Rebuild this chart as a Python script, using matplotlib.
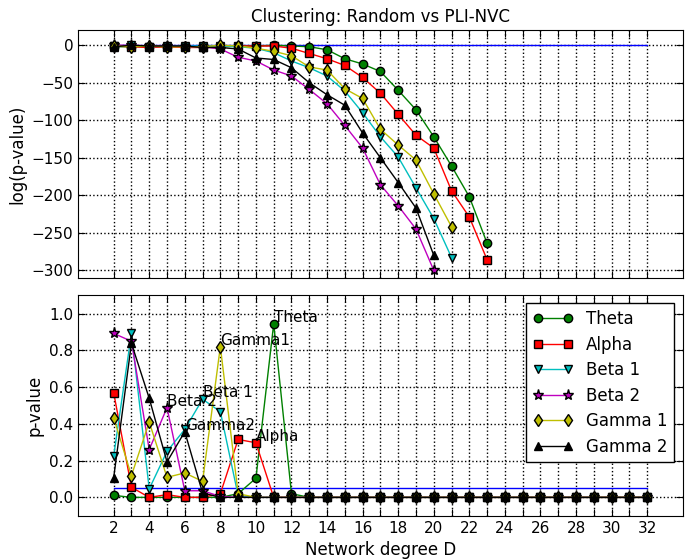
import numpy as np
import matplotlib.pyplot as plt

degrees = list(range(2, 33))
nan = float('nan')

# log(p-value), degree 2..23 (then nothing plotted)
theta_log = [-2, -2, -2, -2, -2, -2, -2, -1, -1, 0, -1, -2, -6, -18, -25, -35, -60, -86, -122, -161, -202, -264]
alpha_log = [-1, -2, -3, -2, -3, -3, -2, -1, -1, -1, -4, -11, -18, -27, -43, -64, -92, -120, -137, -194, -229, -286]
beta1_log = [-1, 0, -2, -1, -1, -1, -1, -2, -4, -10, -21, -30, -41, -61, -90, -122, -149, -190, -231, -283]
beta2_log = [0, 0, -1, -1, -2, -2, -5, -16, -21, -33, -41, -59, -78, -107, -137, -186, -214, -245, -300]
gamma1_log = [-1, -2, -1, -2, -2, -2, 0, -1, -4, -8, -14, -29, -33, -58, -71, -112, -133, -153, -198, -242]
gamma2_log = [-2, 0, -1, -1, -1, -3, -3, -5, -17, -19, -30, -50, -66, -80, -117, -150, -183, -217, -280]

# p-value, degree 2..12, zero afterwards
theta_p = [0.011, 0.0, 0.0, 0.0, 0.0, 0.0, 0.0, 0.02, 0.104, 0.944, 0.02]
alpha_p = [0.570, 0.055, 0.0, 0.015, 0.0, 0.0, 0.02, 0.315, 0.297, 0.0, 0.0]
beta1_p = [0.224, 0.892, 0.046, 0.25, 0.37, 0.534, 0.466, 0.01, 0.0, 0.0, 0.0]
beta2_p = [0.892, 0.849, 0.26, 0.488, 0.036, 0.036, 0.005, 0.0, 0.0, 0.0, 0.0]
gamma1_p = [0.434, 0.118, 0.41, 0.109, 0.133, 0.087, 0.82, 0.02, 0.0, 0.0, 0.0]
gamma2_p = [0.106, 0.838, 0.539, 0.193, 0.357, 0.024, 0.0, 0.0, 0.0, 0.0, 0.0]

names = ['Theta', 'Alpha', 'Beta 1', 'Beta 2', 'Gamma 1', 'Gamma 2']
colors = ['g', 'r', 'c', 'm', 'y', 'k']
markers = ['o', 's', 'v', '*', 'd', '^']
markersizes = [6, 6, 6, 8, 6, 6]

# peak annotations (label, degree, p-value)
notes = [('Theta', 11, 0.944), ('Gamma1', 8, 0.82), ('Beta 2', 5, 0.488),
         ('Beta 1', 7, 0.534), ('Gamma2', 6, 0.357), ('Alpha', 10, 0.297)]

threshold_log = 0
threshold_p = 0.05

logs = [theta_log, alpha_log, beta1_log, beta2_log, gamma1_log, gamma2_log]
pvals = [theta_p, alpha_p, beta1_p, beta2_p, gamma1_p, gamma2_p]

fig = plt.figure(figsize=(6.91, 5.60), dpi=100)
ax1 = fig.add_axes([0.113, 0.504, 0.875, 0.442])
ax2 = fig.add_axes([0.113, 0.079, 0.875, 0.394])

ax1.plot(degrees, [threshold_log] * len(degrees), color='b', lw=1)
for i in range(len(names)):
    y = logs[i] + [nan] * (len(degrees) - len(logs[i]))
    ax1.plot(degrees, y, color=colors[i], marker=markers[i], ms=markersizes[i],
             mfc=colors[i], mec='k', lw=1)

ax2.plot(degrees, [threshold_p] * len(degrees), color='b', lw=1)
for i in range(len(names)):
    y = pvals[i] + [0.0] * (len(degrees) - len(pvals[i]))
    ax2.plot(degrees, y, color=colors[i], marker=markers[i], ms=markersizes[i],
             mfc=colors[i], mec='k', lw=1, label=names[i])
for txt, x, y in notes:
    ax2.text(x, y + 0.01, txt, fontsize=11)

for ax in [ax1, ax2]:
    ax.set_xlim(0, 34)
    ax.set_xticks(degrees)
    ax.grid(True, color='k', linestyle=':', lw=1)
    ax.tick_params(direction='in', top=True, right=True, labelsize=11, length=5)

ax1.set_xticklabels([])
ax2.set_xticklabels([str(d) if d % 2 == 0 else '' for d in degrees])

ax1.set_ylim(-310, 20)
ax1.set_yticks(range(-300, 1, 50))
ax2.set_ylim(-0.1, 1.1)
ax2.set_yticks(np.arange(0, 1.01, 0.2))
ax2.set_yticklabels(['0.0', '0.2', '0.4', '0.6', '0.8', '1.0'])

ax1.set_title('Clustering: Random vs PLI-NVC', fontsize=12)
ax1.set_ylabel('log(p-value)', fontsize=12)
ax2.set_ylabel('p-value', fontsize=12)
ax2.set_xlabel('Network degree D', fontsize=12)

leg = ax2.legend(loc='upper right', numpoints=2, fontsize=12, fancybox=False,
                 framealpha=1, handlelength=2.4, borderpad=0.4, labelspacing=0.45)
leg.get_frame().set_edgecolor('k')

fig.savefig('out.png', dpi=100)
